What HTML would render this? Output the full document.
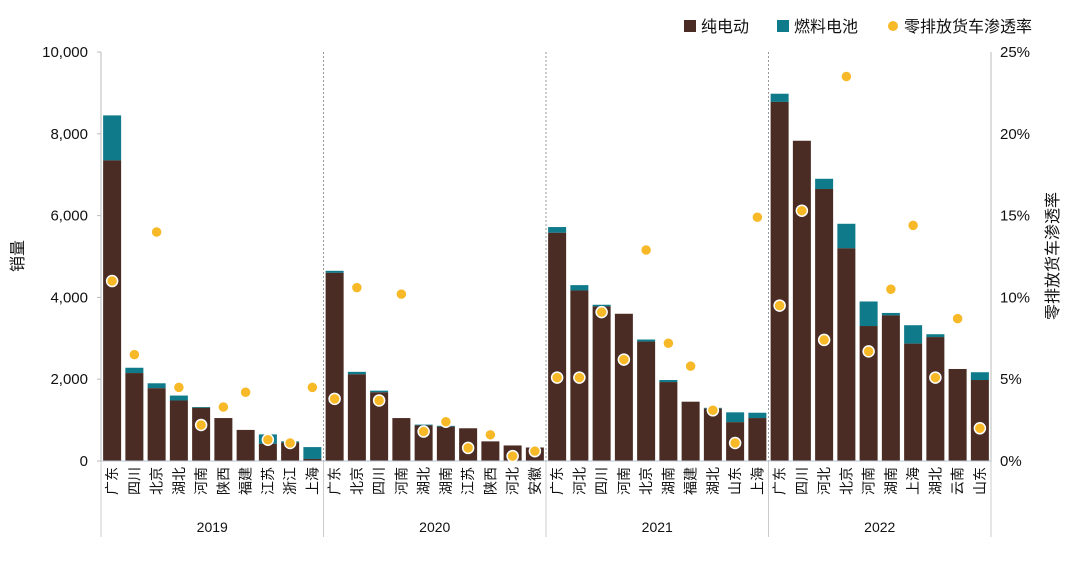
<!DOCTYPE html>
<html><head><meta charset="utf-8"><style>
body{margin:0;background:#fff;}
svg{display:block;font-family:"Liberation Sans","Noto Sans CJK SC",sans-serif;}
</style></head><body>
<svg id="s" width="1080" height="574" xmlns="http://www.w3.org/2000/svg"></svg>
<script>
const d=[
[["广东",7350,8450,11],["四川",2150,2280,6.5],["北京",1780,1900,14],["湖北",1480,1600,4.5],["河南",1300,1320,2.2],["陕西",1050,1050,3.3],["福建",760,760,4.2],["江苏",420,650,1.3],["浙江",450,480,1.1],["上海",50,340,4.5]],
[["广东",4600,4650,3.8],["北京",2120,2180,10.6],["四川",1680,1720,3.7],["河南",1050,1050,10.2],["湖北",870,890,1.8],["湖南",840,860,2.4],["江苏",800,800,0.8],["陕西",480,480,1.6],["河北",380,380,0.3],["安徽",330,330,0.6]],
[["广东",5580,5720,5.1],["河北",4170,4300,5.1],["四川",3780,3820,9.1],["河南",3600,3600,6.2],["北京",2920,2970,12.9],["湖南",1930,1980,7.2],["福建",1450,1450,5.8],["湖北",1280,1300,3.1],["山东",950,1190,1.1],["上海",1050,1180,14.9]],
[["广东",8780,8980,9.5],["四川",7830,7830,15.3],["河北",6650,6900,7.4],["北京",5200,5800,23.5],["河南",3300,3900,6.7],["湖南",3560,3620,10.5],["上海",2870,3320,14.4],["湖北",3030,3100,5.1],["云南",2250,2250,8.7],["山东",1980,2170,2]]];
const yrs=["2019","2020","2021","2022"];
const X0=101,X1=991,Y0=461,Y1=52,W=(X1-X0)/40;
const y=v=>Y0-(Y0-Y1)*v/10000, yp=p=>Y0-(Y0-Y1)*p/25;
let h='';
h+=`<line x1="${X0}" y1="${Y1}" x2="${X0}" y2="${Y0}" stroke="#bbb"/>`;
h+=`<line x1="${X1}" y1="${Y1}" x2="${X1}" y2="${Y0}" stroke="#bbb"/>`;
for(let i=0;i<=5;i++){let v=i*2000,yy=y(v);
h+=`<line x1="${X0-4}" y1="${yy}" x2="${X0}" y2="${yy}" stroke="#bbb"/>`;
h+=`<text x="88" y="${yy+5}" font-size="15" text-anchor="end" fill="#111">${v.toLocaleString('en-US')}</text>`;
h+=`<text x="1000" y="${yy+5}" font-size="15" fill="#111">${i*5}%</text>`;}
let dots='';
for(let g=0;g<4;g++){
 let gx=X0+g*10*W;
 if(g>0)h+=`<line x1="${gx}" y1="${Y1}" x2="${gx}" y2="${Y0}" stroke="#999" stroke-dasharray="2,2"/>`;
 h+=`<line x1="${gx}" y1="${Y0}" x2="${gx}" y2="537" stroke="#ccc"/>`;
 h+=`<text x="${gx+5*W}" y="532" font-size="14" text-anchor="middle" fill="#111">${yrs[g]}</text>`;
 d[g].forEach((r,i)=>{let cx=gx+(i+0.5)*W,bx=cx-9;
  h+=`<rect x="${bx}" y="${y(r[2])}" width="18" height="${y(r[1])-y(r[2])}" fill="#0e7a8a"/>`;
  h+=`<rect x="${bx}" y="${y(r[1])}" width="18" height="${Y0-y(r[1])}" fill="#4a2c24"/>`;
  h+=`<text transform="translate(${cx+5},467) rotate(-90)" font-size="14" text-anchor="end" fill="#111">${r[0]}</text>`;
  dots+=`<circle cx="${cx}" cy="${yp(r[3])}" r="5.5" fill="#f7b928" stroke="#fff" stroke-width="1.5"/>`;
 });}
h+=`<line x1="${X1}" y1="${Y0}" x2="${X1}" y2="537" stroke="#ccc"/>`;
h+=`<line x1="${X0}" y1="${Y0}" x2="${X1}" y2="${Y0}" stroke="#b8c4d4"/>`;
h+=dots;
h+=`<text transform="translate(23,256) rotate(-90)" font-size="16" text-anchor="middle" fill="#111">销量</text>`;
h+=`<text transform="translate(1058,256) rotate(-90)" font-size="16" text-anchor="middle" fill="#111">零排放货车渗透率</text>`;
h+=`<rect x="684" y="20" width="12" height="12" fill="#4a2c24"/><text x="701" y="32" font-size="16" fill="#111">纯电动</text>`;
h+=`<rect x="777" y="20" width="12" height="12" fill="#0e7a8a"/><text x="794" y="32" font-size="16" fill="#111">燃料电池</text>`;
h+=`<circle cx="893" cy="26" r="5" fill="#f7b928"/><text x="904" y="32" font-size="16" fill="#111">零排放货车渗透率</text>`;
document.getElementById('s').innerHTML=h;
</script>
</body></html>
